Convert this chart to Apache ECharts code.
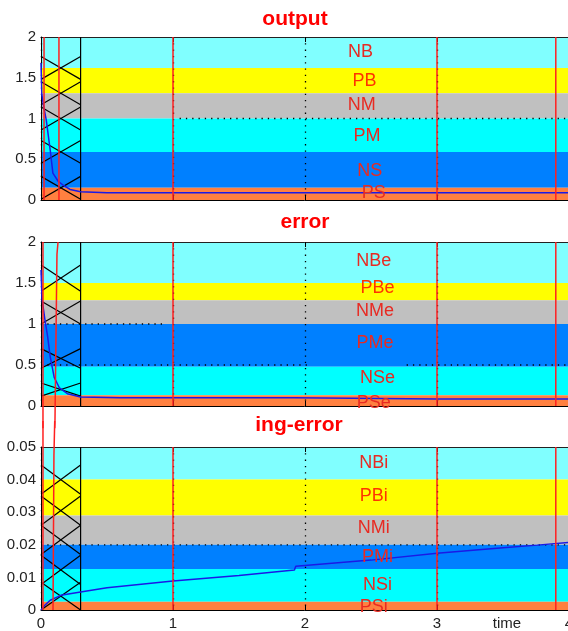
<!DOCTYPE html>
<html><head><meta charset="utf-8">
<script src="https://cdn.jsdelivr.net/npm/echarts@6/dist/echarts.min.js"></script>
<style>html,body{margin:0;padding:0;background:#fff}#c{width:568px;height:631px}</style>
</head><body><div id="c"></div>
<script>
// ---------- data ----------
const titles = ['output', 'error', 'ing-error'];
const xTicks = ['0', '1', '2', '3', '4'];
const xName = 'time';
const yTicksA = ['0', '0.5', '1', '1.5', '2'];
const yTicksC = ['0', '0.01', '0.02', '0.03', '0.04', '0.05'];

const bandNames1 = ['NB', 'PB', 'NM', 'PM', 'NS', 'PS'];
const bandEdges1 = [2, 1.62, 1.31, 1.0, 0.59, 0.15, 0];
const labelX1 = [2.42, 2.45, 2.43, 2.47, 2.49, 2.52];
const labelY1 = [1.82, 1.46, 1.17, 0.785, 0.356, 0.086];

const bandNames2 = ['NBe', 'PBe', 'NMe', 'PMe', 'NSe', 'PSe'];
const bandEdges2 = [2, 1.5, 1.29, 1.0, 0.48, 0.13, 0];
const labelX2 = [2.52, 2.55, 2.53, 2.53, 2.55, 2.52];
const labelY2 = [1.77, 1.44, 1.16, 0.77, 0.34, 0.04];

const bandNames3 = ['NBi', 'PBi', 'NMi', 'PMi', 'NSi', 'PSi'];
const bandEdges3 = [0.05, 0.04, 0.029, 0.02, 0.0126, 0.0025, 0];
const labelX3 = [2.52, 2.52, 2.52, 2.55, 2.55, 2.52];
const labelY3 = [0.0451, 0.035, 0.0252, 0.0163, 0.0077, 0.0009];

// response curves
const outT = [0, 0.003, 0.006, 0.02, 0.04, 0.07, 0.09, 0.13, 0.17, 0.22, 0.3, 0.5, 1, 2, 3, 4];
const outV = [1.68, 1.68, 1.3, 1.15, 0.98, 0.61, 0.33, 0.23, 0.18, 0.13, 0.1, 0.09, 0.09, 0.09, 0.09, 0.09];
const errT = [0, 0.005, 0.008, 0.03, 0.05, 0.07, 0.1, 0.14, 0.2, 0.3, 0.6, 1, 1.5, 1.92, 1.93, 3, 4];
const errV = [1.66, 1.66, 1.3, 1.05, 0.85, 0.6, 0.35, 0.22, 0.15, 0.11, 0.1, 0.1, 0.1, 0.1, 0.085, 0.085, 0.085];
const ingT = [0, 0.03, 0.07, 0.15, 0.3, 0.5, 1, 1.5, 1.92, 1.93, 2.5, 3, 3.5, 3.76, 4];
const ingV = [0, 0.0015, 0.003, 0.0045, 0.0055, 0.0068, 0.0089, 0.0106, 0.0123, 0.0134, 0.0153, 0.0174, 0.0191, 0.0199, 0.0207];

// membership function lines (x = degree scaled to time axis, y = value)
const memb1 = [
  [[0.3, 0], [0.3, 2]],
  [[0, 1.76], [0.3, 1.48]], [[0, 1.48], [0.3, 1.76]],
  [[0, 1.45], [0.3, 1.17]], [[0, 1.17], [0.3, 1.45]],
  [[0, 1.14], [0.3, 0.86]], [[0, 0.86], [0.3, 1.14]],
  [[0, 0.73], [0.3, 0.45]], [[0, 0.45], [0.3, 0.73]],
  [[0, 0.29], [0.3, 0.01]], [[0, 0.01], [0.3, 0.29]]
];
const memb2 = [
  [[0.3, 0], [0.3, 2]],
  [[0, 1.72], [0.3, 1.40]], [[0, 1.40], [0.3, 1.72]],
  [[0, 1.28], [0.3, 1.0]], [[0, 1.0], [0.3, 1.28]],
  [[0, 0.70], [0.3, 0.46]], [[0, 0.46], [0.3, 0.70]],
  [[0, 0.28], [0.3, 0.12]], [[0, 0.12], [0.3, 0.28]]
];
const memb3 = [
  [[0.3, 0], [0.3, 0.05]],
  [[0, 0.0445], [0.3, 0.0355]], [[0, 0.0355], [0.3, 0.0445]],
  [[0, 0.035], [0.3, 0.026]], [[0, 0.026], [0.3, 0.035]],
  [[0, 0.026], [0.3, 0.017]], [[0, 0.017], [0.3, 0.026]],
  [[0, 0.0168], [0.3, 0.0078]], [[0, 0.0078], [0.3, 0.0168]],
  [[0, 0.0085], [0.3, 0.0]], [[0, 0.0], [0.3, 0.0085]]
];

// red vertical markers (time)
const redX = [1, 3, 3.9];
const redEarly1 = [[[0.023, 0], [0.023, 2]], [[0.136, 0], [0.136, 2]]];
// early red traces running from panel 2 down through panel 3 (continue past the frames)
const redEarly2 = [[[0.015, 2], [0.015, -0.27]], [[0.129, 2], [0.121, 1.85], [0.106, -0.17], [0.104, -0.27]]];
const redEarly3 = [[[0.015, 0], [0.015, 0.058]], [[0.091, 0], [0.098, 0.0475], [0.104, 0.058]]];

// dotted reference lines
const dots1 = [[[1.05, 1], [4, 1]]];
const dots2 = [[[0, 1], [0.95, 1]], [[0, 0.5], [2.05, 0.5]], [[2.77, 0.5], [4, 0.5]]];
const dots3 = [[[0, 0.02], [4, 0.02]]];

// ---------- styles ----------
const F = '"Liberation Sans", Arial, sans-serif';
const colorsA = ['#80ffff', '#ffff00', '#c0c0c0', '#00ffff', '#0080ff', '#ff8040'];
const colorsB = ['#80ffff', '#ffff00', '#c0c0c0', '#0080ff', '#00ffff', '#ff8040'];
const labRed = '#e82a22', labOrange = '#ff3300';
const RED = '#ff2020';

const grids = [
  { left: 41, top: 37, width: 528, height: 163, outerBoundsMode: 'none', containLabel: false },
  { left: 41, top: 242, width: 528, height: 164, outerBoundsMode: 'none', containLabel: false },
  { left: 41, top: 447, width: 528, height: 163, outerBoundsMode: 'none', containLabel: false }
];

const panels = [
  { edges: bandEdges1, names: bandNames1, lx: labelX1, ly: labelY1, colors: colorsA, max: 2, interval: 0.5, ticks: yTicksA, t: outT, v: outV, memb: memb1, dots: dots1, early: redEarly1 },
  { edges: bandEdges2, names: bandNames2, lx: labelX2, ly: labelY2, colors: colorsB, max: 2, interval: 0.5, ticks: yTicksA, t: errT, v: errV, memb: memb2, dots: dots2, early: redEarly2 },
  { edges: bandEdges3, names: bandNames3, lx: labelX3, ly: labelY3, colors: colorsB, max: 0.05, interval: 0.01, ticks: yTicksC, t: ingT, v: ingV, memb: memb3, dots: dots3, early: redEarly3 }
];

const xAxis = [], yAxis = [], series = [];
panels.forEach((p, i) => {
  xAxis.push({
    gridIndex: i, type: 'value', min: 0, max: 4, interval: 1, position: 'bottom', z: 3,
    axisLine: { show: true, onZero: false, lineStyle: { color: '#000', width: 1 } },
    axisTick: { show: true, inside: true, length: 5, lineStyle: { color: '#000' } },
    axisLabel: { show: i === 2, fontSize: 15, fontFamily: F, color: '#222', margin: 6, formatter: v => xTicks[Math.round(v)] },
    splitLine: { show: true, lineStyle: { color: '#000', width: 1.3, type: [1.3, 5] } },
    name: i === 2 ? xName : '', nameLocation: 'end', nameGap: -62,
    nameTextStyle: { fontSize: 15, fontFamily: F, color: '#222', align: 'center', verticalAlign: 'top', padding: [6, 0, 0, 0] }
  });
  yAxis.push({
    gridIndex: i, type: 'value', min: 0, max: p.max, interval: p.interval, z: 3,
    axisLine: { show: true, onZero: false, lineStyle: { color: '#000', width: 1 } },
    axisTick: { show: false },
    axisLabel: { fontSize: 15, fontFamily: F, color: '#222', margin: 5, formatter: v => p.ticks[Math.round(v / p.interval)] },
    splitLine: { show: false }
  });
});
panels.forEach((p, i) => {
  xAxis.push({
    gridIndex: i, type: 'value', min: 0, max: 4, interval: 1, position: 'top', z: 3,
    axisLine: { show: true, onZero: false, lineStyle: { color: '#222', width: 1 } },
    axisTick: { show: true, inside: true, length: 5, lineStyle: { color: '#000' } },
    axisLabel: { show: false }, splitLine: { show: false }
  });
});

function seg(coords, i, style, z, clip) {
  return {
    type: 'line', xAxisIndex: i, yAxisIndex: i, showSymbol: false, symbol: 'none', z: z, silent: true,
    clip: clip, lineStyle: style, data: coords
  };
}

panels.forEach((p, i) => {
  series.push({
    type: 'line', xAxisIndex: i, yAxisIndex: i, data: [], z: 1, silent: true,
    markArea: {
      silent: true,
      data: p.colors.map((c, k) => [
        { xAxis: 0, yAxis: p.edges[k + 1], itemStyle: { color: c, opacity: 1 } },
        { xAxis: 4, yAxis: p.edges[k] }
      ])
    }
  });
  p.memb.forEach(c => series.push(seg(c, i, { color: '#000', width: 1.2 }, 3, true)));
  p.dots.forEach(c => series.push(seg(c, i, { color: '#000', width: 1.3, type: [1.3, 5] }, 3, true)));
  series.push(seg(p.t.map((t, k) => [t, p.v[k]]), i, { color: '#1a1ae6', width: 1.5 }, 4, true));
  redX.forEach(x => series.push(seg([[x, 0], [x, p.max]], i, { color: RED, width: 1.5 }, 5, true)));
  p.early.forEach(c => series.push(seg(c, i, { color: RED, width: 1.5 }, 5, false)));
  series.push({
    type: 'scatter', xAxisIndex: i, yAxisIndex: i, symbolSize: 0, z: 6, silent: true,
    itemStyle: { opacity: 1 },
    label: { show: true, position: 'inside', formatter: q => q.name, fontSize: 18, fontFamily: F },
    data: p.names.map((n, k) => ({ name: n, value: [p.lx[k], p.ly[k]], label: { color: k === 1 ? labOrange : labRed } }))
  });
});

const titlePos = [{ x: 290, y: 4 }, { x: 300, y: 207 }, { x: 294, y: 410 }];
const option = {
  animation: false,
  backgroundColor: '#fff',
  title: titles.map((t, i) => ({
    text: t, left: titlePos[i].x, top: titlePos[i].y, textAlign: 'center',
    textStyle: { color: '#ff0000', fontSize: 21, fontWeight: 'bold', fontFamily: F }
  })),
  grid: grids,
  xAxis, yAxis, series
};
echarts.init(document.getElementById('c')).setOption(option);
</script>
</body></html>
